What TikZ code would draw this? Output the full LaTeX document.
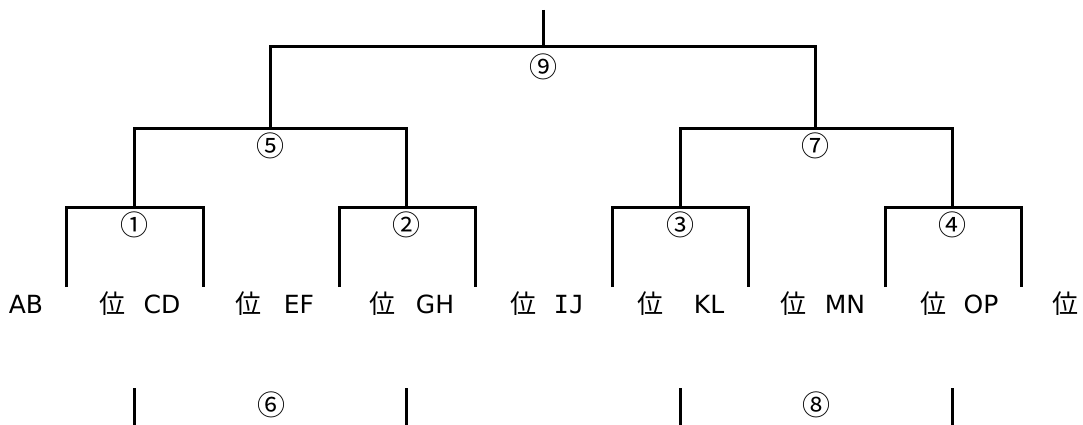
\documentclass[tikz,border=0pt]{standalone}
\usepackage{fontspec}
\setmainfont{DejaVu Sans}
\newfontfamily\cjk{Noto Sans CJK JP}
\newfontfamily\ijfont{DejaVu Sans Mono}
\begin{document}
\begin{tikzpicture}[x=1pt,y=-1pt,
  br/.style={line width=3pt},
  lab/.style={anchor=base,inner sep=0pt,font=\fontsize{25}{30}\selectfont},
  rk/.style={anchor=base,inner sep=0pt,font=\cjk\fontsize{26}{30}\selectfont},
  num/.style={anchor=center,inner sep=0pt,font=\cjk\fontsize{28}{32}\selectfont}]
\useasboundingbox (0,0) rectangle (1083,425);
% coordinates
\coordinate (top) at (543,10);
\coordinate (l1) at (543,47);
\coordinate (l2a) at (270,128);
\coordinate (l2b) at (815,128);
\coordinate (l3a) at (134,207);
\coordinate (l3b) at (406,207);
\coordinate (l3c) at (680,207);
\coordinate (l3d) at (952,207);
% level 1
\draw[br] (top) -- (l1);
\draw[br] (l2a) |- (l1) -| (l2b);
% level 2
\draw[br] (l3a) |- (l2a) -| (l3b);
\draw[br] (l3c) |- (l2b) -| (l3d);
% level 3
\draw[br] (66,287) |- (l3a) -| (203,287);
\draw[br] (339,287) |- (l3b) -| (475,287);
\draw[br] (612,287) |- (l3c) -| (748,287);
\draw[br] (885,287) |- (l3d) -| (1021,287);
% bottom
\coordinate (q1) at (134,388); \coordinate (q1e) at (134,426);
\coordinate (q2) at (406,388); \coordinate (q2e) at (406,426);
\coordinate (q3) at (680,388); \coordinate (q3e) at (680,426);
\coordinate (q4) at (952,388); \coordinate (q4e) at (952,426);
\draw[br] (q1) -- (q1e);
\draw[br] (q2) -- (q2e);
\draw[br] (q3) -- (q3e);
\draw[br] (q4) -- (q4e);
% numbers
\node[num] (n9) at (543,67) {⑨};
\node[num] (n5) at (270,146) {⑤};
\node[num] (n7) at (815,146) {⑦};
\node[num] (n1) at (134,225) {①};
\node[num] (n2) at (406,225) {②};
\node[num] (n3) at (680,225) {③};
\node[num] (n4) at (952,225) {④};
\node[num] (n6) at (271,405) {⑥};
\node[num] (n8) at (816,405) {⑧};
% labels
\node[lab] (tAB) at (26,313) {AB};
\node[lab] (tCD) at (162,313) {CD};
\node[lab] (tEF) at (299,313) {EF};
\node[lab] (tGH) at (435,313) {GH};
\node[lab,font=\ijfont\fontsize{25}{30}\selectfont] (tIJ) at (569,313) {IJ};
\node[lab] (tKL) at (709,313) {KL};
\node[lab] (tMN) at (845,313) {MN};
\node[lab] (tOP) at (981,313) {OP};
\node[rk] (r1) at (112,313) {位};
\node[rk] (r2) at (248,313) {位};
\node[rk] (r3) at (382,313) {位};
\node[rk] (r4) at (523,313) {位};
\node[rk] (r5) at (650,313) {位};
\node[rk] (r6) at (793,313) {位};
\node[rk] (r7) at (933,313) {位};
\node[rk] (r8) at (1065,313) {位};
\end{tikzpicture}
\end{document}
